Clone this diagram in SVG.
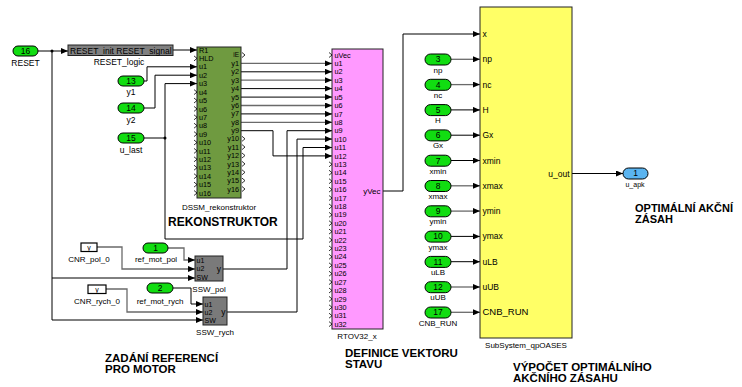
<svg xmlns="http://www.w3.org/2000/svg" width="742" height="387" viewBox="0 0 742 387">
<defs>
<marker id="ar" viewBox="0 0 7 6" refX="7" refY="3" markerWidth="7" markerHeight="6" markerUnits="userSpaceOnUse" orient="auto"><path d="M0,0L7,3L0,6z" fill="#000"/></marker>
</defs>
<style>
text{font-family:"Liberation Sans",Arial,sans-serif;fill:#000}
.w{fill:none;stroke:#000;stroke-width:1}
.g{stroke:#6a6a6a;stroke-width:1.3}
.a{marker-end:url(#ar)}
.ch{fill:none;stroke:#000;stroke-width:0.8}
.in{fill:#11dd11;stroke:#000;stroke-width:1}
.out{fill:#5ab4f0;stroke:#000;stroke-width:1}
.blk{stroke:#222;stroke-width:1}
.p{font-size:8.5px}
.q{font-size:7.3px}
.t{font-size:7px}
.s{font-size:8px}
.n{font-size:8.5px;text-anchor:middle}
.c{text-anchor:middle}
.e{text-anchor:end}
.h{font-size:11.5px;font-weight:bold}
</style>
<rect width="742" height="387" fill="#fff"/>

<g id="connectors">
<path class="w a" d="M38,51H68"/>
<path class="w a" d="M52,51V320H203"/>
<path class="w a" d="M52,278H195"/>
<circle cx="52" cy="51" r="1.5"/>
<path class="w a" d="M173,50H197"/>
<path class="w a" d="M144,81H147V66.8H197"/>
<path class="w a" d="M144,108H155V75.2H197"/>
<path class="w a" d="M144,138H165V83.6H197"/>
<circle cx="165" cy="138" r="1.5"/>
<path class="w a" d="M165,138V239H303V147.5H332"/>
<path class="w a g" d="M241,63.4H332"/>
<path class="w a" d="M241,71.8H332"/>
<path class="w a g" d="M241,80.2H332"/>
<path class="w a" d="M241,88.6H332"/>
<path class="w a" d="M241,97.1H332"/>
<path class="w a g" d="M241,105.5H332"/>
<path class="w a" d="M241,113.9H332"/>
<path class="w a g" d="M241,122.3H332"/>
<path class="w a" d="M241,130.7H273V155.9H332"/>
<path class="w a" d="M223,269H287V130.7H332"/>
<path class="w a" d="M227,312H297V139.1H332"/>
<path class="w a g" d="M97,247H122V269H195"/>
<path class="w a g" d="M168,248H184V260H195"/>
<path class="w a g" d="M106,289H127V312H203"/>
<path class="w a" d="M173,288H191V304H203"/>
<path class="w a" d="M383,191H403V34H480"/>
<path class="w a g" d="M451,59.3H480"/>
<path class="w a g" d="M451,84.6H480"/>
<path class="w a" d="M451,109.9H480"/>
<path class="w a" d="M451,135.2H480"/>
<path class="w a" d="M451,160.5H480"/>
<path class="w a g" d="M451,185.8H480"/>
<path class="w a g" d="M451,211.1H480"/>
<path class="w a" d="M451,236.4H480"/>
<path class="w a" d="M451,261.7H480"/>
<path class="w a g" d="M451,287H480"/>
<path class="w a g" d="M451,312.3H480"/>
<path class="w a" d="M572,173.5H623"/>
</g>

<g id="in_RESET">
<rect class="in" x="13" y="46" width="25" height="10" rx="5"/>
<text class="n" x="25.5" y="54">16</text>
<text class="p c" x="25.5" y="66">RESET</text>
</g>
<g id="RESET_logic">
<rect class="blk" x="68" y="45" width="105" height="10.5" fill="#808080"/>
<text class="p" x="70" y="53.5">RESET_init RESET_signal</text>
<text class="p c" x="119" y="65">RESET_logic</text>
</g>
<g id="in_y1">
<rect class="in" x="118" y="76" width="26" height="10" rx="5"/>
<text class="n" x="131" y="84">13</text>
<text class="p c" x="131" y="95">y1</text>
</g>
<g id="in_y2">
<rect class="in" x="118" y="103" width="26" height="10" rx="5"/>
<text class="n" x="131" y="111">14</text>
<text class="p c" x="131" y="123">y2</text>
</g>
<g id="in_u_last">
<rect class="in" x="118" y="133" width="26" height="10" rx="5"/>
<text class="n" x="131" y="141">15</text>
<text class="p c" x="131" y="153">u_last</text>
</g>

<g id="DSSM_rekonstruktor">
<rect class="blk" x="197" y="47" width="44" height="151" fill="#6f9a40"/>
<path class="ch" d="M194,55.9l3,2.5l-3,2.5M194,89.6l3,2.5l-3,2.5M194,98l3,2.5l-3,2.5M194,106.4l3,2.5l-3,2.5M194,114.8l3,2.5l-3,2.5M194,123.2l3,2.5l-3,2.5M194,131.6l3,2.5l-3,2.5M194,140l3,2.5l-3,2.5M194,148.4l3,2.5l-3,2.5M194,156.8l3,2.5l-3,2.5M194,165.2l3,2.5l-3,2.5M194,173.7l3,2.5l-3,2.5M194,182.1l3,2.5l-3,2.5M194,190.5l3,2.5l-3,2.5"/>
<path class="ch" d="M242,52.5l3,2.5l-3,2.5M242,136.3l3,2.5l-3,2.5M242,144.6l3,2.5l-3,2.5M242,153l3,2.5l-3,2.5M242,161.4l3,2.5l-3,2.5M242,169.8l3,2.5l-3,2.5M242,178.1l3,2.5l-3,2.5M242,186.5l3,2.5l-3,2.5"/>
<g class="q">
<text x="199" y="52.6">R1</text><text x="199" y="61">HLD</text>
<text x="199" y="69.4">u1</text><text x="199" y="77.8">u2</text><text x="199" y="86.2">u3</text>
<text x="199" y="94.7">u4</text><text x="199" y="103.1">u5</text><text x="199" y="111.5">u6</text>
<text x="199" y="119.9">u7</text><text x="199" y="128.3">u8</text><text x="199" y="136.7">u9</text>
<text x="199" y="145.1">u10</text><text x="199" y="153.5">u11</text><text x="199" y="161.9">u12</text>
<text x="199" y="170.3">u13</text><text x="199" y="178.8">u14</text><text x="199" y="187.2">u15</text>
<text x="199" y="195.6">u16</text>
</g>
<g class="q e">
<text x="239" y="57.3" style="font-size:6.5px">iE</text>
<text x="239" y="66">y1</text><text x="239" y="74.4">y2</text><text x="239" y="82.7">y3</text>
<text x="239" y="91.1">y4</text><text x="239" y="99.5">y5</text><text x="239" y="107.9">y6</text>
<text x="239" y="116.2">y7</text><text x="239" y="124.6">y8</text><text x="239" y="133">y9</text>
<text x="239" y="141.4">y10</text><text x="239" y="149.7">y11</text><text x="239" y="158.1">y12</text>
<text x="239" y="166.5">y13</text><text x="239" y="174.9">y14</text><text x="239" y="183.2">y15</text>
<text x="239" y="191.6">y16</text>
</g>
<text class="s c" x="219" y="210">DSSM_rekonstruktor</text>
</g>
<text class="h" x="168" y="226" style="font-size:12px">REKONSTRUKTOR</text>

<g id="CNR_pol_0">
<rect x="81" y="243" width="16" height="8.5" fill="#fff" stroke="#000" stroke-width="1.2"/>
<text class="t c" x="89" y="250">y</text>
<text class="s c" x="89" y="262">CNR_pol_0</text>
</g>
<g id="ref_mot_pol">
<rect class="in" x="143" y="243" width="25" height="10" rx="5"/>
<text class="n" x="155.5" y="251">1</text>
<text class="s c" x="156" y="262">ref_mot_pol</text>
</g>
<g id="SSW_pol">
<rect class="blk" x="195" y="256" width="28" height="25" fill="#7a7a7a"/>
<text class="t" x="196.5" y="262.5">u1</text>
<text class="t" x="196.5" y="271.2">u2</text>
<text class="t" x="196.5" y="280">SW</text>
<text class="p e" x="221" y="272">y</text>
<text class="s c" x="209" y="292">SSW_pol</text>
</g>
<g id="CNR_rych_0">
<rect x="88" y="285" width="18" height="8.5" fill="#fff" stroke="#000" stroke-width="1.2"/>
<text class="t c" x="97" y="292">y</text>
<text class="s c" x="97" y="304">CNR_rych_0</text>
</g>
<g id="ref_mot_rych">
<rect class="in" x="147" y="283" width="26" height="10" rx="5"/>
<text class="n" x="160" y="291">2</text>
<text class="s c" x="160" y="304">ref_mot_rych</text>
</g>
<g id="SSW_rych">
<rect class="blk" x="203" y="297" width="24" height="28" fill="#7a7a7a"/>
<text class="t" x="204.5" y="306.5">u1</text>
<text class="t" x="204.5" y="314.5">u2</text>
<text class="t" x="204.5" y="322.5">SW</text>
<text class="p e" x="225.5" y="315">y</text>
<text class="s c" x="215" y="335">SSW_rych</text>
</g>

<g id="RTOV32_x">
<rect class="blk" x="332" y="49" width="51" height="280" fill="#ff99ff"/>
<path class="ch" d="M329,52.5l3,2.5l-3,2.5M329,161.8l3,2.5l-3,2.5M329,170.2l3,2.5l-3,2.5M329,178.7l3,2.5l-3,2.5M329,187.1l3,2.5l-3,2.5M329,195.5l3,2.5l-3,2.5M329,203.9l3,2.5l-3,2.5M329,212.3l3,2.5l-3,2.5M329,220.7l3,2.5l-3,2.5M329,229.1l3,2.5l-3,2.5M329,237.5l3,2.5l-3,2.5M329,245.9l3,2.5l-3,2.5M329,254.3l3,2.5l-3,2.5M329,262.8l3,2.5l-3,2.5M329,271.2l3,2.5l-3,2.5M329,279.6l3,2.5l-3,2.5M329,288l3,2.5l-3,2.5M329,296.4l3,2.5l-3,2.5M329,304.8l3,2.5l-3,2.5M329,313.2l3,2.5l-3,2.5M329,321.6l3,2.5l-3,2.5"/>
<g class="q">
<text x="334.5" y="57.6">uVec</text>
<text x="334.5" y="66">u1</text><text x="334.5" y="74.4">u2</text><text x="334.5" y="82.8">u3</text>
<text x="334.5" y="91.2">u4</text><text x="334.5" y="99.7">u5</text><text x="334.5" y="108.1">u6</text>
<text x="334.5" y="116.5">u7</text><text x="334.5" y="124.9">u8</text><text x="334.5" y="133.3">u9</text>
<text x="334.5" y="141.7">u10</text><text x="334.5" y="150.1">u11</text><text x="334.5" y="158.5">u12</text>
<text x="334.5" y="166.9">u13</text><text x="334.5" y="175.3">u14</text><text x="334.5" y="183.8">u15</text>
<text x="334.5" y="192.2">u16</text><text x="334.5" y="200.6">u17</text><text x="334.5" y="209">u18</text>
<text x="334.5" y="217.4">u19</text><text x="334.5" y="225.8">u20</text><text x="334.5" y="234.2">u21</text>
<text x="334.5" y="242.6">u22</text><text x="334.5" y="251">u23</text><text x="334.5" y="259.4">u24</text>
<text x="334.5" y="267.9">u25</text><text x="334.5" y="276.3">u26</text><text x="334.5" y="284.7">u27</text>
<text x="334.5" y="293.1">u28</text><text x="334.5" y="301.5">u29</text><text x="334.5" y="309.9">u30</text>
<text x="334.5" y="318.3">u31</text><text x="334.5" y="326.7">u32</text>
</g>
<text class="s e" x="380.5" y="194">yVec</text>
<text class="s c" x="357" y="339">RTOV32_x</text>
</g>

<g id="in_np"><rect class="in" x="425" y="54" width="26" height="11" rx="5.5"/><text class="n" x="438" y="62.3">3</text><text class="s c" x="438" y="72.5">np</text></g>
<g id="in_nc"><rect class="in" x="425" y="79.3" width="26" height="11" rx="5.5"/><text class="n" x="438" y="87.6">4</text><text class="s c" x="438" y="97.8">nc</text></g>
<g id="in_H"><rect class="in" x="425" y="104.6" width="26" height="11" rx="5.5"/><text class="n" x="438" y="112.9">5</text><text class="s c" x="438" y="123.1">H</text></g>
<g id="in_Gx"><rect class="in" x="425" y="129.9" width="26" height="11" rx="5.5"/><text class="n" x="438" y="138.2">6</text><text class="s c" x="438" y="148.4">Gx</text></g>
<g id="in_xmin"><rect class="in" x="425" y="155.2" width="26" height="11" rx="5.5"/><text class="n" x="438" y="163.5">7</text><text class="s c" x="438" y="173.7">xmin</text></g>
<g id="in_xmax"><rect class="in" x="425" y="180.5" width="26" height="11" rx="5.5"/><text class="n" x="438" y="188.8">8</text><text class="s c" x="438" y="199">xmax</text></g>
<g id="in_ymin"><rect class="in" x="425" y="205.8" width="26" height="11" rx="5.5"/><text class="n" x="438" y="214.1">9</text><text class="s c" x="438" y="224.3">ymin</text></g>
<g id="in_ymax"><rect class="in" x="425" y="231.1" width="26" height="11" rx="5.5"/><text class="n" x="438" y="239.4">10</text><text class="s c" x="438" y="249.6">ymax</text></g>
<g id="in_uLB"><rect class="in" x="425" y="256.4" width="26" height="11" rx="5.5"/><text class="n" x="438" y="264.7">11</text><text class="s c" x="438" y="274.9">uLB</text></g>
<g id="in_uUB"><rect class="in" x="425" y="281.7" width="26" height="11" rx="5.5"/><text class="n" x="438" y="290">12</text><text class="s c" x="438" y="300.2">uUB</text></g>
<g id="in_CNB_RUN"><rect class="in" x="425" y="307" width="26" height="11" rx="5.5"/><text class="n" x="438" y="315.3">17</text><text class="s c" x="438" y="326">CNB_RUN</text></g>

<g id="SubSystem_qpOASES">
<rect class="blk" x="480" y="7" width="92" height="331" fill="#ffff66"/>
<g style="font-size:8.5px">
<text x="482.5" y="37">x</text>
<text x="482.5" y="62.3">np</text>
<text x="482.5" y="87.6">nc</text>
<text x="482.5" y="112.9">H</text>
<text x="482.5" y="138.2">Gx</text>
<text x="482.5" y="163.5">xmin</text>
<text x="482.5" y="188.8">xmax</text>
<text x="482.5" y="214.1">ymin</text>
<text x="482.5" y="239.4">ymax</text>
<text x="482.5" y="264.7">uLB</text>
<text x="482.5" y="290">uUB</text>
<text x="482.5" y="315.3" style="font-size:9.5px">CNB_RUN</text>
</g>
<text class="p e" x="569.5" y="176.5">u_out</text>
<text class="s c" x="526" y="348">SubSystem_qpOASES</text>
</g>

<g id="out_u_apk">
<rect class="out" x="623" y="168" width="25" height="11" rx="5.5"/>
<text class="n" x="635.5" y="176">1</text>
<text class="c" x="635" y="187" style="font-size:7px">u_apk</text>
</g>

<text class="h" x="635" y="212" style="font-size:11px">OPTIMÁLNÍ AKČNÍ</text>
<text class="h" x="635" y="222.5" style="font-size:11px">ZÁSAH</text>
<text class="h" x="105" y="362">ZADÁNÍ REFERENCÍ</text>
<text class="h" x="105" y="372.5">PRO MOTOR</text>
<text class="h" x="345" y="357">DEFINICE VEKTORU</text>
<text class="h" x="345" y="367.5">STAVU</text>
<text class="h" x="513" y="371">VÝPOČET OPTIMÁLNÍHO</text>
<text class="h" x="513" y="381.5">AKČNÍHO ZÁSAHU</text>
</svg>
